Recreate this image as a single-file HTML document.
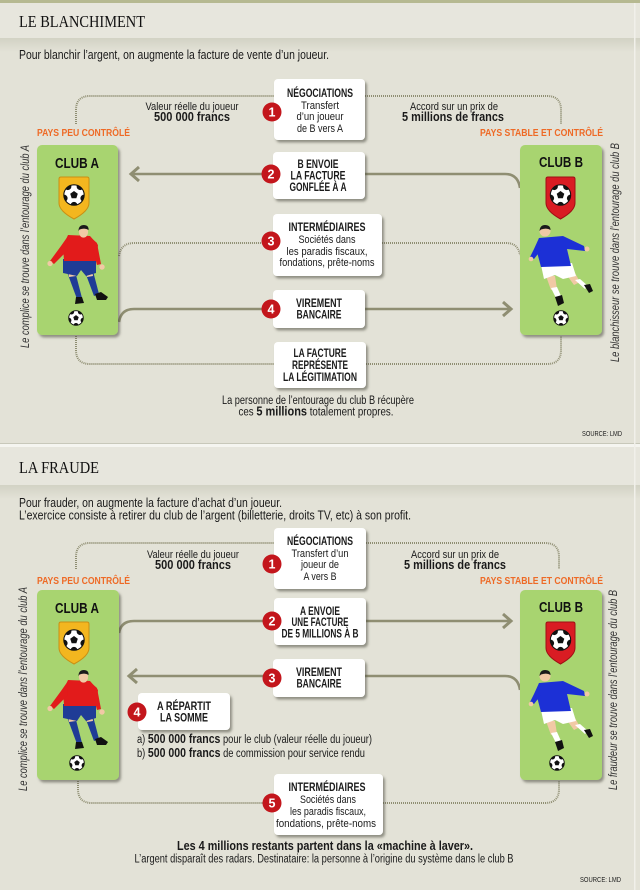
<!DOCTYPE html>
<html><head><meta charset="utf-8">
<style>
html,body{margin:0;padding:0;width:640px;height:890px;overflow:hidden;background:#e3e2d7}
svg{display:block}
.t{font-family:"Liberation Sans Narrow","Liberation Sans",Arial,sans-serif;fill:#1a1a1a;font-size:11px}
.n{font-size:12px}
.p{font-size:12.5px}
.b{font-weight:bold}
.c{text-anchor:middle}
.o{font-family:"Liberation Sans Narrow","Liberation Sans",Arial,sans-serif;fill:#ee6a26;font-weight:bold;font-size:10.5px}
.s{font-family:"Liberation Serif",serif;font-size:16.5px;fill:#111}
.i{font-family:"Liberation Sans Narrow","Liberation Sans",Arial,sans-serif;font-style:italic;font-size:11.5px;fill:#333}
.w{font-family:"Liberation Sans",Arial,sans-serif;fill:#fff;font-weight:bold;font-size:12.5px;text-anchor:middle}
.k{font-family:"Liberation Sans",Arial,sans-serif;fill:#111;font-weight:bold;font-size:14.5px;text-anchor:middle}
</style></head>
<body>
<svg width="640" height="890" viewBox="0 0 640 890" xmlns="http://www.w3.org/2000/svg">
<defs>
<filter id="sh" x="-15%" y="-15%" width="140%" height="140%"><feDropShadow dx="2" dy="2.5" stdDeviation="1.2" flood-color="#4d4d40" flood-opacity="0.55"/></filter>
<linearGradient id="hg" x1="0" y1="0" x2="0" y2="1"><stop offset="0" stop-color="#d2d2c4"/><stop offset="1" stop-color="#e3e2d7"/></linearGradient>
<clipPath id="bc"><circle cx="0" cy="0" r="1"/></clipPath>
</defs>

<!-- backgrounds -->
<rect x="0" y="0" width="640" height="890" fill="#e3e2d7"/>
<rect x="0" y="0" width="640" height="3" fill="#b6b991"/>
<rect x="0" y="3" width="640" height="35" fill="#e7e6dd"/>
<rect x="0" y="38" width="640" height="14" fill="url(#hg)"/>
<rect x="0" y="443" width="640" height="1" fill="#c8c8ba"/>
<rect x="0" y="444" width="640" height="3" fill="#f5f5f0"/>
<rect x="0" y="447" width="640" height="38" fill="#e7e6dd"/>
<rect x="0" y="485" width="640" height="14" fill="url(#hg)"/>
<rect x="634" y="3" width="1.5" height="887" fill="#f1f0ea"/>

<!-- ============ SECTION 1 ============ -->
<text class="s" x="19" y="27" textLength="126" lengthAdjust="spacingAndGlyphs">LE BLANCHIMENT</text>
<text class="t p" x="19" y="59" textLength="310" lengthAdjust="spacingAndGlyphs">Pour blanchir l’argent, on augmente la facture de vente d’un joueur.</text>

<!-- connectors -->
<g fill="none" stroke="#8f8e72" stroke-width="2" stroke-dasharray="1 1">
<path d="M76,124 V110 Q76,96 90,96 H274"/>
<path d="M365,96 H547 Q561,96 561,110 V124"/>
<path d="M119,256 Q121,243 134,243 H273"/>
<path d="M382,243 H506 Q518,243 520,255"/>
<path d="M76,336 V350 Q76,364 90,364 H274"/>
<path d="M366,364 H547 Q561,364 561,350 V336"/>
</g>
<g fill="none" stroke="#8f8e72" stroke-width="2.6">
<path d="M520,188 Q518,174 505,174 H132"/>
<polyline points="139,167 131,174 139,181" stroke-width="3"/>
<path d="M119,322 Q121,309 134,309 H510"/>
<polyline points="503,302 511,309 503,316" stroke-width="3"/>
</g>

<text class="t c" x="192" y="110" textLength="93" lengthAdjust="spacingAndGlyphs">Valeur réelle du joueur</text>
<text class="t b c p" x="192" y="121" textLength="76" lengthAdjust="spacingAndGlyphs">500 000 francs</text>
<text class="t c" x="454" y="110" textLength="88" lengthAdjust="spacingAndGlyphs">Accord sur un prix de</text>
<text class="t b c p" x="453" y="121" textLength="102" lengthAdjust="spacingAndGlyphs">5 millions de francs</text>
<text class="o" x="37" y="136" textLength="93" lengthAdjust="spacingAndGlyphs">PAYS PEU CONTRÔLÉ</text>
<text class="o" x="480" y="136" textLength="123" lengthAdjust="spacingAndGlyphs">PAYS STABLE ET CONTRÔLÉ</text>

<!-- node boxes -->
<g fill="#fff" filter="url(#sh)">
<rect x="274" y="79" width="91" height="61" rx="4"/>
<rect x="273" y="152" width="92" height="47" rx="4"/>
<rect x="273" y="214" width="109" height="62" rx="4"/>
<rect x="273" y="290" width="92" height="38" rx="4"/>
<rect x="274" y="342" width="92" height="46" rx="4"/>
</g>

<text class="t b c n" x="320" y="97" textLength="66" lengthAdjust="spacingAndGlyphs">NÉGOCIATIONS</text>
<text class="t c" x="320" y="109" textLength="38" lengthAdjust="spacingAndGlyphs">Transfert</text>
<text class="t c" x="320" y="120" textLength="47" lengthAdjust="spacingAndGlyphs">d’un joueur</text>
<text class="t c" x="320" y="132" textLength="46" lengthAdjust="spacingAndGlyphs">de B vers A</text>

<text class="t b c n" x="318" y="168" textLength="41" lengthAdjust="spacingAndGlyphs">B ENVOIE</text>
<text class="t b c n" x="318" y="179.5" textLength="55" lengthAdjust="spacingAndGlyphs">LA FACTURE</text>
<text class="t b c n" x="318" y="191" textLength="57" lengthAdjust="spacingAndGlyphs">GONFLÉE À A</text>

<text class="t b c n" x="327" y="231" textLength="77" lengthAdjust="spacingAndGlyphs">INTERMÉDIAIRES</text>
<text class="t c" x="327" y="243" textLength="57" lengthAdjust="spacingAndGlyphs">Sociétés dans</text>
<text class="t c" x="327" y="255" textLength="81" lengthAdjust="spacingAndGlyphs">les paradis fiscaux,</text>
<text class="t c" x="327" y="266" textLength="95" lengthAdjust="spacingAndGlyphs">fondations, prête-noms</text>

<text class="t b c n" x="319" y="307" textLength="46" lengthAdjust="spacingAndGlyphs">VIREMENT</text>
<text class="t b c n" x="319" y="318.5" textLength="45" lengthAdjust="spacingAndGlyphs">BANCAIRE</text>

<text class="t b c n" x="320" y="357" textLength="53" lengthAdjust="spacingAndGlyphs">LA FACTURE</text>
<text class="t b c n" x="320" y="369" textLength="56" lengthAdjust="spacingAndGlyphs">REPRÉSENTE</text>
<text class="t b c n" x="320" y="381" textLength="74" lengthAdjust="spacingAndGlyphs">LA LÉGITIMATION</text>

<text class="t c" x="318" y="404" style="font-size:11.5px" textLength="192" lengthAdjust="spacingAndGlyphs">La personne de l’entourage du club B récupère</text>
<text class="t c" x="316" y="415.5" style="font-size:11.5px" textLength="155" lengthAdjust="spacingAndGlyphs">ces <tspan class="b" style="font-size:13px">5 millions</tspan> totalement propres.</text>
<text class="t" x="582" y="436" style="font-size:7.5px" textLength="40" lengthAdjust="spacingAndGlyphs">SOURCE: LMD</text>

<!-- number circles S1 -->
<g fill="#c3161c">
<circle cx="272" cy="112" r="9.5"/>
<circle cx="271" cy="174" r="9.5"/>
<circle cx="271" cy="241" r="9.5"/>
<circle cx="271" cy="309" r="9.5"/>
</g>
<text class="w" x="272" y="116.5">1</text>
<text class="w" x="271" y="178.5">2</text>
<text class="w" x="271" y="245.5">3</text>
<text class="w" x="271" y="313.5">4</text>

<!-- rotated texts S1 -->
<text class="i" transform="translate(29,348) rotate(-90)" textLength="203" lengthAdjust="spacingAndGlyphs">Le complice se trouve dans l’entourage du club A</text>
<text class="i" transform="translate(619,362) rotate(-90)" textLength="219" lengthAdjust="spacingAndGlyphs">Le blanchisseur se trouve dans l’entourage du club B</text>

<!-- clubs section 1 -->
<g>
<rect x="37" y="145" width="81" height="190" rx="5" fill="#a8d46f" filter="url(#sh)"/>
<rect x="520" y="145" width="82" height="190" rx="5" fill="#a8d46f" filter="url(#sh)"/>
<text class="k" x="77" y="168" textLength="44" lengthAdjust="spacingAndGlyphs">CLUB A</text>
<text class="k" x="561" y="167" textLength="44" lengthAdjust="spacingAndGlyphs">CLUB B</text>
<path d="M59,179 Q59,177 61,177 H87 Q89,177 89,179 V203 Q89,211 74,219 Q59,211 59,203 Z" fill="#f3b61f" stroke="#c98f14" stroke-width="1"/>
<path d="M546,179 Q546,177 548,177 H573 Q575,177 575,179 V203 Q575,211 560.5,219 Q546,211 546,203 Z" fill="#d91c23" stroke="#9e0f14" stroke-width="1"/>
<g transform="translate(74,195) scale(10.5)"><g clip-path="url(#bc)"><circle r="1" fill="#fff"/><polygon points="0,-0.38 0.361,-0.117 0.223,0.307 -0.223,0.307 -0.361,-0.117" fill="#111"/><circle cx="0" cy="1" r="0.34" fill="#111"/><circle cx="-0.95" cy="0.31" r="0.34" fill="#111"/><circle cx="-0.59" cy="-0.81" r="0.34" fill="#111"/><circle cx="0.59" cy="-0.81" r="0.34" fill="#111"/><circle cx="0.95" cy="0.31" r="0.34" fill="#111"/></g><circle r="0.97" fill="none" stroke="#111" stroke-width="0.1"/></g>
<g transform="translate(560.5,195) scale(10.5)"><g clip-path="url(#bc)"><circle r="1" fill="#fff"/><polygon points="0,-0.38 0.361,-0.117 0.223,0.307 -0.223,0.307 -0.361,-0.117" fill="#111"/><circle cx="0" cy="1" r="0.34" fill="#111"/><circle cx="-0.95" cy="0.31" r="0.34" fill="#111"/><circle cx="-0.59" cy="-0.81" r="0.34" fill="#111"/><circle cx="0.59" cy="-0.81" r="0.34" fill="#111"/><circle cx="0.95" cy="0.31" r="0.34" fill="#111"/></g><circle r="0.97" fill="none" stroke="#111" stroke-width="0.1"/></g>
<g transform="translate(76,318) scale(7.5)"><g clip-path="url(#bc)"><circle r="1" fill="#fff"/><polygon points="0,-0.38 0.361,-0.117 0.223,0.307 -0.223,0.307 -0.361,-0.117" fill="#111"/><circle cx="0" cy="1" r="0.34" fill="#111"/><circle cx="-0.95" cy="0.31" r="0.34" fill="#111"/><circle cx="-0.59" cy="-0.81" r="0.34" fill="#111"/><circle cx="0.59" cy="-0.81" r="0.34" fill="#111"/><circle cx="0.95" cy="0.31" r="0.34" fill="#111"/></g><circle r="0.97" fill="none" stroke="#111" stroke-width="0.12"/></g>
<g transform="translate(561,318) scale(7.5)"><g clip-path="url(#bc)"><circle r="1" fill="#fff"/><polygon points="0,-0.38 0.361,-0.117 0.223,0.307 -0.223,0.307 -0.361,-0.117" fill="#111"/><circle cx="0" cy="1" r="0.34" fill="#111"/><circle cx="-0.95" cy="0.31" r="0.34" fill="#111"/><circle cx="-0.59" cy="-0.81" r="0.34" fill="#111"/><circle cx="0.59" cy="-0.81" r="0.34" fill="#111"/><circle cx="0.95" cy="0.31" r="0.34" fill="#111"/></g><circle r="0.97" fill="none" stroke="#111" stroke-width="0.12"/></g>
<!-- player A -->
<g>
<polygon points="85,272 93,271 99,294 94,296" fill="#1f3c96"/>
<polygon points="86,270 92,270 93,276 87,277" fill="#f1c9a5"/>
<polygon points="95,294 101,292 108,297 106,300 97,300" fill="#111"/>
<polygon points="67,272 75,271 82,298 77,299" fill="#1f3c96"/>
<polygon points="68,270 76,270 76,276 69,277" fill="#f1c9a5"/>
<polygon points="76,297 82,297 84,303 75,304" fill="#111"/>
<path d="M63,259 L96,259 L96,273 L86,276 L81,270 L77,276 L63,273 Z" fill="#1f3c96"/>
<path d="M68,235 L90,236 L98,245 L96,261 L64,261 L63,246 Z" fill="#e21b1b"/>
<path d="M68,236 L61,246 L50,261 L54,264 L67,251 Z" fill="#e21b1b"/>
<circle cx="50" cy="263.5" r="2.6" fill="#f1c9a5"/>
<path d="M89,236 L97,243 L101,264 L97,265 L93,250 Z" fill="#e21b1b"/>
<circle cx="102" cy="267" r="2.7" fill="#f1c9a5"/>
<ellipse cx="83.5" cy="232" rx="4.6" ry="5.6" fill="#f1c9a5"/>
<path d="M78.5,231 Q78.5,225 84,225 Q88.8,225 88.6,230 Q85,227.5 79.5,229.5 Z" fill="#1a1a1a"/>
</g>
<!-- player B -->
<g>
<polygon points="566,274 575,273 580,282 574,285" fill="#f1c9a5"/>
<polygon points="575,280 580,279 588,286 585,289" fill="#fff"/>
<polygon points="584,285 590,284 593,291 589,293" fill="#111"/>
<polygon points="546,276 555,276 557,289 551,290" fill="#f1c9a5"/>
<polygon points="551,288 557,287 561,296 556,298" fill="#fff"/>
<polygon points="555,297 562,295 564,303 558,306" fill="#111"/>
<path d="M541,265 L572,263 L576,276 L563,279 L555,275 L544,279 Z" fill="#fff"/>
<path d="M539,238 L563,236 L584,246 L585,251 L567,249 L571,266 L541,267 L537,252 Z" fill="#1c30d6"/>
<path d="M539,238 L534,249 L530,257 L534,259 L541,250 Z" fill="#1c30d6"/>
<circle cx="531" cy="259" r="2.3" fill="#f1c9a5"/>
<circle cx="587" cy="249" r="2.5" fill="#f1c9a5"/>
<circle cx="545" cy="231" r="5.5" fill="#f1c9a5"/>
<path d="M539.5,231 Q540,225 545,225 Q550.5,225 550.5,230 Q547,227.5 541,229.5 Z" fill="#1a1a1a"/>
</g>
</g>

<!-- ============ SECTION 2 ============ -->
<text class="s" x="19" y="473" textLength="80" lengthAdjust="spacingAndGlyphs">LA FRAUDE</text>
<text class="t p" x="19" y="507" textLength="263" lengthAdjust="spacingAndGlyphs">Pour frauder, on augmente la facture d’achat d’un joueur.</text>
<text class="t p" x="19" y="519.5" textLength="392" lengthAdjust="spacingAndGlyphs">L’exercice consiste à retirer du club de l’argent (billetterie, droits TV, etc) à son profit.</text>

<g fill="none" stroke="#8f8e72" stroke-width="2" stroke-dasharray="1 1">
<path d="M76,569 V557 Q76,543 90,543 H274"/>
<path d="M366,543 H545 Q559,543 559,557 V569"/>
<path d="M78,781 V789 Q78,803 92,803 H274"/>
<path d="M383,803 H545 Q559,803 559,789 V781"/>
</g>
<g fill="none" stroke="#8f8e72" stroke-width="2.6">
<path d="M119,633 Q121,621 134,621 H510"/>
<polyline points="503,614 511,621 503,628" stroke-width="3"/>
<path d="M520,690 Q518,676 505,676 H130"/>
<polyline points="137,669 129,676 137,683" stroke-width="3"/>
</g>

<text class="t c" x="193" y="558" textLength="92" lengthAdjust="spacingAndGlyphs">Valeur réelle du joueur</text>
<text class="t b c p" x="193" y="569" textLength="76" lengthAdjust="spacingAndGlyphs">500 000 francs</text>
<text class="t c" x="455" y="558" textLength="88" lengthAdjust="spacingAndGlyphs">Accord sur un prix de</text>
<text class="t b c p" x="455" y="569" textLength="102" lengthAdjust="spacingAndGlyphs">5 millions de francs</text>
<text class="o" x="37" y="584" textLength="93" lengthAdjust="spacingAndGlyphs">PAYS PEU CONTRÔLÉ</text>
<text class="o" x="480" y="584" textLength="123" lengthAdjust="spacingAndGlyphs">PAYS STABLE ET CONTRÔLÉ</text>

<g fill="#fff" filter="url(#sh)">
<rect x="274" y="528" width="92" height="61" rx="4"/>
<rect x="274" y="598" width="92" height="47" rx="4"/>
<rect x="273" y="659" width="92" height="38" rx="4"/>
<rect x="138" y="693" width="92" height="37" rx="4"/>
<rect x="274" y="774" width="109" height="61" rx="4"/>
</g>

<text class="t b c n" x="320" y="545" textLength="66" lengthAdjust="spacingAndGlyphs">NÉGOCIATIONS</text>
<text class="t c" x="320" y="557" textLength="57" lengthAdjust="spacingAndGlyphs">Transfert d’un</text>
<text class="t c" x="320" y="568" textLength="38" lengthAdjust="spacingAndGlyphs">joueur de</text>
<text class="t c" x="320" y="580" textLength="33" lengthAdjust="spacingAndGlyphs">A vers B</text>

<text class="t b c n" x="320" y="615" textLength="40" lengthAdjust="spacingAndGlyphs">A ENVOIE</text>
<text class="t b c n" x="320" y="626" textLength="57" lengthAdjust="spacingAndGlyphs">UNE FACTURE</text>
<text class="t b c n" x="320" y="637.5" textLength="77" lengthAdjust="spacingAndGlyphs">DE 5 MILLIONS À B</text>

<text class="t b c n" x="319" y="676" textLength="46" lengthAdjust="spacingAndGlyphs">VIREMENT</text>
<text class="t b c n" x="319" y="687.5" textLength="45" lengthAdjust="spacingAndGlyphs">BANCAIRE</text>

<text class="t b c n" x="184" y="710" textLength="54" lengthAdjust="spacingAndGlyphs">A RÉPARTIT</text>
<text class="t b c n" x="184" y="721.5" textLength="48" lengthAdjust="spacingAndGlyphs">LA SOMME</text>

<text class="t" x="137" y="743" style="font-size:11.5px" textLength="235" lengthAdjust="spacingAndGlyphs">a) <tspan class="b" style="font-size:13px">500 000 francs</tspan> pour le club (valeur réelle du joueur)</text>
<text class="t" x="137" y="757" style="font-size:11.5px" textLength="228" lengthAdjust="spacingAndGlyphs">b) <tspan class="b" style="font-size:13px">500 000 francs</tspan> de commission pour service rendu</text>

<text class="t b c n" x="327" y="791" textLength="77" lengthAdjust="spacingAndGlyphs">INTERMÉDIAIRES</text>
<text class="t c" x="328" y="803" textLength="56" lengthAdjust="spacingAndGlyphs">Sociétés dans</text>
<text class="t c" x="328" y="815" textLength="76" lengthAdjust="spacingAndGlyphs">les paradis fiscaux,</text>
<text class="t c" x="326" y="827" textLength="100" lengthAdjust="spacingAndGlyphs">fondations, prête-noms</text>

<text class="t b c" x="325" y="850" style="font-size:13px" textLength="296" lengthAdjust="spacingAndGlyphs">Les 4 millions restants partent dans la «machine à laver».</text>
<text class="t c" x="324" y="862.5" style="font-size:11.5px" textLength="379" lengthAdjust="spacingAndGlyphs">L’argent disparaît des radars. Destinataire: la personne à l’origine du système dans le club B</text>
<text class="t" x="580" y="882" style="font-size:7.5px" textLength="41" lengthAdjust="spacingAndGlyphs">SOURCE: LMD</text>

<g fill="#c3161c">
<circle cx="272" cy="564" r="9.5"/>
<circle cx="272" cy="621" r="9.5"/>
<circle cx="272" cy="678" r="9.5"/>
<circle cx="137" cy="712" r="9.5"/>
<circle cx="272" cy="803" r="9.5"/>
</g>
<text class="w" x="272" y="568.5">1</text>
<text class="w" x="272" y="625.5">2</text>
<text class="w" x="272" y="682.5">3</text>
<text class="w" x="137" y="716.5">4</text>
<text class="w" x="272" y="807.5">5</text>

<text class="i" transform="translate(27,791) rotate(-90)" textLength="204" lengthAdjust="spacingAndGlyphs">Le complice se trouve dans l’entourage du club A</text>
<text class="i" transform="translate(617,790) rotate(-90)" textLength="200" lengthAdjust="spacingAndGlyphs">Le fraudeur se trouve dans l’entourage du club B</text>

<!-- clubs section 2 -->
<g transform="translate(0,445)">
<rect x="37" y="145" width="82" height="190" rx="5" fill="#a8d46f" filter="url(#sh)"/>
<rect x="520" y="145" width="82" height="190" rx="5" fill="#a8d46f" filter="url(#sh)"/>
<text class="k" x="77" y="168" textLength="44" lengthAdjust="spacingAndGlyphs">CLUB A</text>
<text class="k" x="561" y="167" textLength="44" lengthAdjust="spacingAndGlyphs">CLUB B</text>
<path d="M59,179 Q59,177 61,177 H87 Q89,177 89,179 V203 Q89,211 74,219 Q59,211 59,203 Z" fill="#f3b61f" stroke="#c98f14" stroke-width="1"/>
<path d="M546,179 Q546,177 548,177 H573 Q575,177 575,179 V203 Q575,211 560.5,219 Q546,211 546,203 Z" fill="#d91c23" stroke="#9e0f14" stroke-width="1"/>
<g transform="translate(74,195) scale(10.5)"><g clip-path="url(#bc)"><circle r="1" fill="#fff"/><polygon points="0,-0.38 0.361,-0.117 0.223,0.307 -0.223,0.307 -0.361,-0.117" fill="#111"/><circle cx="0" cy="1" r="0.34" fill="#111"/><circle cx="-0.95" cy="0.31" r="0.34" fill="#111"/><circle cx="-0.59" cy="-0.81" r="0.34" fill="#111"/><circle cx="0.59" cy="-0.81" r="0.34" fill="#111"/><circle cx="0.95" cy="0.31" r="0.34" fill="#111"/></g><circle r="0.97" fill="none" stroke="#111" stroke-width="0.1"/></g>
<g transform="translate(560.5,195) scale(10.5)"><g clip-path="url(#bc)"><circle r="1" fill="#fff"/><polygon points="0,-0.38 0.361,-0.117 0.223,0.307 -0.223,0.307 -0.361,-0.117" fill="#111"/><circle cx="0" cy="1" r="0.34" fill="#111"/><circle cx="-0.95" cy="0.31" r="0.34" fill="#111"/><circle cx="-0.59" cy="-0.81" r="0.34" fill="#111"/><circle cx="0.59" cy="-0.81" r="0.34" fill="#111"/><circle cx="0.95" cy="0.31" r="0.34" fill="#111"/></g><circle r="0.97" fill="none" stroke="#111" stroke-width="0.1"/></g>
<g transform="translate(77,318) scale(7.5)"><g clip-path="url(#bc)"><circle r="1" fill="#fff"/><polygon points="0,-0.38 0.361,-0.117 0.223,0.307 -0.223,0.307 -0.361,-0.117" fill="#111"/><circle cx="0" cy="1" r="0.34" fill="#111"/><circle cx="-0.95" cy="0.31" r="0.34" fill="#111"/><circle cx="-0.59" cy="-0.81" r="0.34" fill="#111"/><circle cx="0.59" cy="-0.81" r="0.34" fill="#111"/><circle cx="0.95" cy="0.31" r="0.34" fill="#111"/></g><circle r="0.97" fill="none" stroke="#111" stroke-width="0.12"/></g>
<g transform="translate(557,318) scale(7.5)"><g clip-path="url(#bc)"><circle r="1" fill="#fff"/><polygon points="0,-0.38 0.361,-0.117 0.223,0.307 -0.223,0.307 -0.361,-0.117" fill="#111"/><circle cx="0" cy="1" r="0.34" fill="#111"/><circle cx="-0.95" cy="0.31" r="0.34" fill="#111"/><circle cx="-0.59" cy="-0.81" r="0.34" fill="#111"/><circle cx="0.59" cy="-0.81" r="0.34" fill="#111"/><circle cx="0.95" cy="0.31" r="0.34" fill="#111"/></g><circle r="0.97" fill="none" stroke="#111" stroke-width="0.12"/></g>
<g>
<polygon points="85,272 93,271 99,294 94,296" fill="#1f3c96"/>
<polygon points="86,270 92,270 93,276 87,277" fill="#f1c9a5"/>
<polygon points="95,294 101,292 108,297 106,300 97,300" fill="#111"/>
<polygon points="67,272 75,271 82,298 77,299" fill="#1f3c96"/>
<polygon points="68,270 76,270 76,276 69,277" fill="#f1c9a5"/>
<polygon points="76,297 82,297 84,303 75,304" fill="#111"/>
<path d="M63,259 L96,259 L96,273 L86,276 L81,270 L77,276 L63,273 Z" fill="#1f3c96"/>
<path d="M68,235 L90,236 L98,245 L96,261 L64,261 L63,246 Z" fill="#e21b1b"/>
<path d="M68,236 L61,246 L50,261 L54,264 L67,251 Z" fill="#e21b1b"/>
<circle cx="50" cy="263.5" r="2.6" fill="#f1c9a5"/>
<path d="M89,236 L97,243 L101,264 L97,265 L93,250 Z" fill="#e21b1b"/>
<circle cx="102" cy="267" r="2.7" fill="#f1c9a5"/>
<ellipse cx="83.5" cy="232" rx="4.6" ry="5.6" fill="#f1c9a5"/>
<path d="M78.5,231 Q78.5,225 84,225 Q88.8,225 88.6,230 Q85,227.5 79.5,229.5 Z" fill="#1a1a1a"/>
</g>
<g>
<polygon points="566,274 575,273 580,282 574,285" fill="#f1c9a5"/>
<polygon points="575,280 580,279 588,286 585,289" fill="#fff"/>
<polygon points="584,285 590,284 593,291 589,293" fill="#111"/>
<polygon points="546,276 555,276 557,289 551,290" fill="#f1c9a5"/>
<polygon points="551,288 557,287 561,296 556,298" fill="#fff"/>
<polygon points="555,297 562,295 564,303 558,306" fill="#111"/>
<path d="M541,265 L572,263 L576,276 L563,279 L555,275 L544,279 Z" fill="#fff"/>
<path d="M539,238 L563,236 L584,246 L585,251 L567,249 L571,266 L541,267 L537,252 Z" fill="#1c30d6"/>
<path d="M539,238 L534,249 L530,257 L534,259 L541,250 Z" fill="#1c30d6"/>
<circle cx="531" cy="259" r="2.3" fill="#f1c9a5"/>
<circle cx="587" cy="249" r="2.5" fill="#f1c9a5"/>
<circle cx="545" cy="231" r="5.5" fill="#f1c9a5"/>
<path d="M539.5,231 Q540,225 545,225 Q550.5,225 550.5,230 Q547,227.5 541,229.5 Z" fill="#1a1a1a"/>
</g>
</g>
</svg>
</body></html>
